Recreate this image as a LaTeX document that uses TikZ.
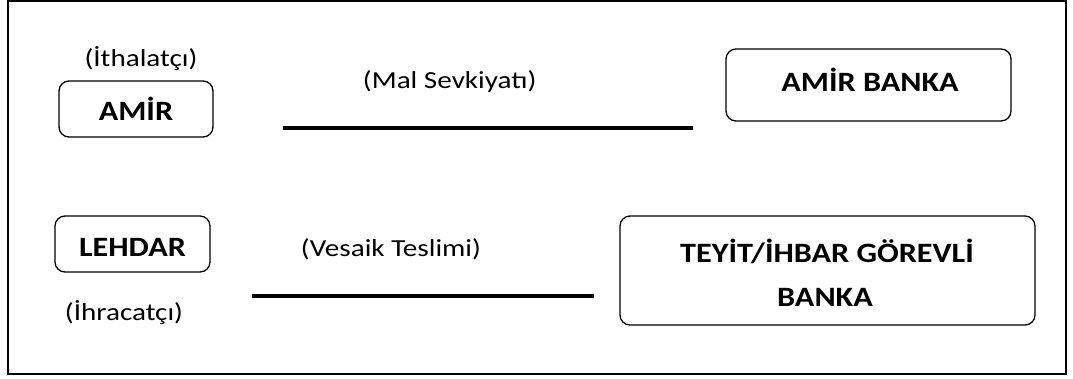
\documentclass[tikz,border=0pt]{standalone}
\usepackage{fontspec}
\setmainfont{Carlito}
\newfontfamily\regfam{Carlito}[FakeStretch=1.19]
\newfontfamily\boldfam{Carlito}[FakeStretch=1.15]
\begin{document}
\begin{tikzpicture}[x=1pt,y=-1pt,
  box/.style={draw,rounded corners=10pt,line width=1.3pt,inner sep=0pt},
  bt/.style={font=\fontsize{28}{34}\boldfam\bfseries,anchor=base,inner sep=0pt},
  lt/.style={font=\fontsize{24.5}{30}\regfam,anchor=base,inner sep=0pt},
  bar/.style={line width=4pt}]
\useasboundingbox (0,0) rectangle (1073,378);
\draw[line width=1.6pt] (8,1) rectangle (1066,374);
% boxes
\node[box,minimum width=154pt,minimum height=56pt] (amir) at (136,109) {};
\node[bt] (amirt) at (136,120.7) {AMİR};
\node[box,minimum width=155pt,minimum height=56pt] (lehdar) at (132.5,244) {};
\node[bt] (lehdart) at (132.5,256.7) {LEHDAR};
\node[box,minimum width=285pt,minimum height=72pt] (amirbanka) at (868.5,85) {};
\node[bt] (amirbankat) at (870,91.7) {AMİR BANKA};
\node[box,minimum width=415pt,minimum height=109pt] (teyit) at (827.5,270.5) {};
\node[bt] (teyit1) at (827,262.3) {TEYİT/İHBAR GÖREVLİ};
\node[bt] (teyit2) at (825,306.7) {BANKA};
% labels
\node[lt] (ith) at (141,66.7) {(İthalatçı)};
\node[lt] (ihr) at (124,320) {(İhracatçı)};
\node[lt] (mal) at (449.7,88.3) {(Mal Sevkiyatı)};
\node[lt] (ves) at (391,256.7) {(Vesaik Teslimi)};
% lines
\coordinate (a1) at (283,128); \coordinate (a2) at (693,128);
\coordinate (b1) at (252,296); \coordinate (b2) at (594,296);
\draw[bar] (a1) -- (a2);
\draw[bar] (b1) -- (b2);
\end{tikzpicture}
\end{document}
